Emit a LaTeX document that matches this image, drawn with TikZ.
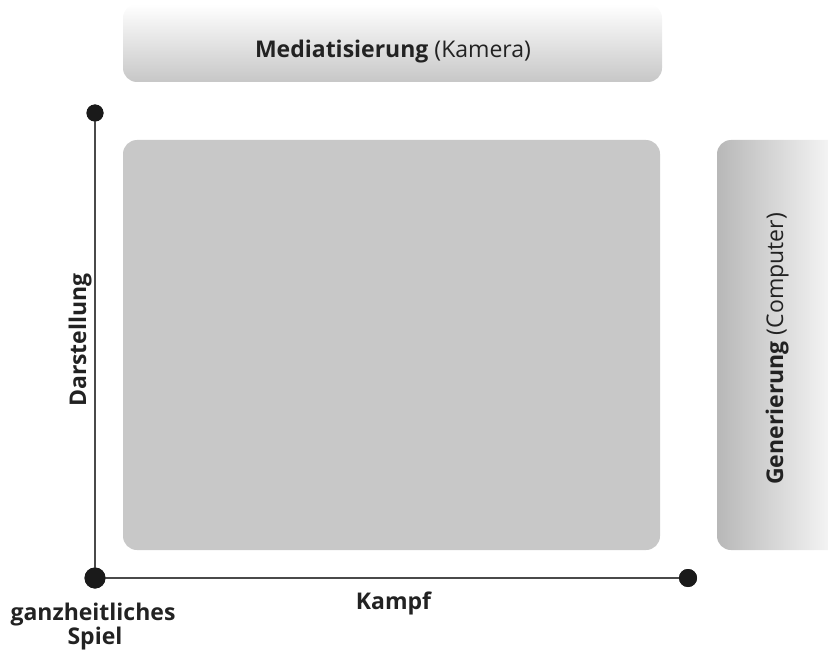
\documentclass[tikz,border=0pt]{standalone}
\usepackage{fontspec}
\setmainfont{Open Sans}
\definecolor{boxgray}{HTML}{C8C8C8}
\definecolor{axisgray}{HTML}{4A4A4A}
\definecolor{dotblack}{HTML}{1A1A1A}
\definecolor{txt}{HTML}{222222}
\begin{document}
\begin{tikzpicture}[x=1pt,y=-1pt,
  lbl/.style={font=\fontsize{23}{26}\selectfont, text=txt, inner sep=0pt},
  dotnode/.style={circle, fill=dotblack, inner sep=0pt, minimum size=#1},
  axis/.style={draw=axisgray, line width=1.8pt}]
\useasboundingbox (0,0) rectangle (828,650);
% top gradient box
\shade[top color=white, bottom color=black!22, rounded corners=14pt]
  (123,4) rectangle (662,82);
\node[lbl, anchor=base] (med) at (393,58) {\textbf{Mediatisierung} (Kamera)};
% right gradient box
\shade[left color=black!28, right color=white, rounded corners=14pt]
  (717,140) rectangle (850,550);
\node[lbl, rotate=90, anchor=base] (gen) at (783,349) {\textbf{Generierung} (Computer)};
% main box
\fill[boxgray, rounded corners=14pt] (123,140) rectangle (660,550);
% axes
\node[dotnode=21pt] (origin) at (95,578) {};
\node[dotnode=17pt] (top) at (95,113) {};
\node[dotnode=18pt] (right) at (688,578) {};
\draw[axis] (origin.center) -- (top.center);
\draw[axis] (origin.center) -- (right.center);
\node[dotnode=21pt] at (95,578) {};
\node[dotnode=17pt] at (95,113) {};
\node[dotnode=18pt] at (688,578) {};
\node[lbl, rotate=90, anchor=base] (dar) at (86,340) {\textbf{Darstellung}};
\node[lbl, anchor=base] (kampf) at (394,609) {\textbf{Kampf}};
\node[lbl, anchor=base] (ganz) at (93,620) {\textbf{ganzheitliches}};
\node[lbl, anchor=base] (spiel) at (95,644) {\textbf{Spiel}};
\end{tikzpicture}
\end{document}
